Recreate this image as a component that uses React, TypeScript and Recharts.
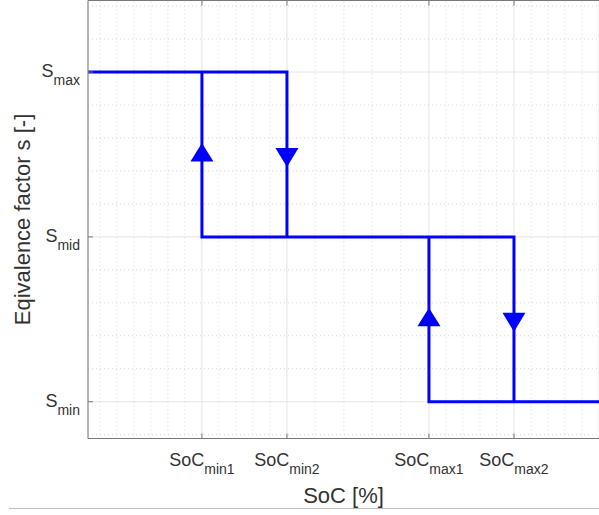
import React from "react";
import { ComposedChart, Line, Scatter, XAxis, YAxis, CartesianGrid, ReferenceLine, Label } from "recharts";

// SoC thresholds (x) and equivalence factor levels (y)
const socTicks = [0.35, 0.45, 0.617, 0.717];
const socSubs = ["min1", "min2", "max1", "max2"];
const sTicks = [0, 1, 2];
const sSubs = ["min", "mid", "max"];

const socMinor = [0.23, 0.25, 0.27, 0.29, 0.31, 0.33, 0.37, 0.39, 0.41, 0.43, 0.483, 0.517, 0.55, 0.584, 0.637, 0.657, 0.677, 0.697, 0.737, 0.757, 0.777, 0.797];
const sMinor = [-0.2, 0.2, 0.4, 0.6, 0.8, 1.2, 1.4, 1.6, 1.8, 2.2, 2.4];

// hysteresis branches
const branchTop = [
  { soc: 0.216, s: 2 },
  { soc: 0.45, s: 2 },
  { soc: 0.45, s: 1 },
];
const branchMid = [
  { soc: 0.35, s: 2 },
  { soc: 0.35, s: 1 },
  { soc: 0.717, s: 1 },
  { soc: 0.717, s: 0 },
];
const branchBottom = [
  { soc: 0.617, s: 1 },
  { soc: 0.617, s: 0 },
  { soc: 0.817, s: 0 },
];

const upArrows = [
  { soc: 0.35, s: 1.5 },
  { soc: 0.617, s: 0.5 },
];
const downArrows = [
  { soc: 0.45, s: 1.5 },
  { soc: 0.717, s: 0.5 },
];

const FONT = '"Liberation Sans", Arial, Helvetica, sans-serif';
const TEXT = "#333333";
const AXIS = "#7a7a7a";
const BLUE = "#0000ff";

const SocTick = ({ x, y, payload }: any) => {
  const i = socTicks.indexOf(payload.value);
  return (
    <g>
      <line x1={x} y1={y} x2={x} y2={y - 5} stroke={AXIS} />
      <text x={x} y={y + 27.5} textAnchor="middle" fontSize={18} fill={TEXT} fontFamily={FONT}>
        SoC
        <tspan fontSize={14} dy={7.5}>{socSubs[i]}</tspan>
      </text>
    </g>
  );
};

const STick = ({ x, y, payload }: any) => {
  const i = sTicks.indexOf(payload.value);
  return (
    <g>
      <line x1={x} y1={y} x2={x + 5} y2={y} stroke={AXIS} />
      <text x={x - 8} y={y + 5} textAnchor="end" fontSize={18} fill={TEXT} fontFamily={FONT}>
        S
        <tspan fontSize={14} dy={8}>{sSubs[i]}</tspan>
      </text>
    </g>
  );
};

const TopTick = ({ x, y }: any) => <line x1={x} y1={y} x2={x} y2={y + 5} stroke={AXIS} />;
const RightTick = ({ x, y }: any) => <line x1={x} y1={y} x2={x - 5} y2={y} stroke={AXIS} />;

const UpTri = ({ cx, cy }: any) => (
  <polygon points={`${cx},${cy - 11.5} ${cx + 11.5},${cy + 7} ${cx - 11.5},${cy + 7}`} fill={BLUE} />
);
const DownTri = ({ cx, cy }: any) => (
  <polygon points={`${cx - 11.5},${cy - 6.5} ${cx + 11.5},${cy - 6.5} ${cx},${cy + 12.5}`} fill={BLUE} />
);

export default function App() {
  return (
    <div style={{ position: "absolute", left: 0, top: 0, width: 599, height: 515, background: "#fff" }}>
      <ComposedChart width={599} height={515} margin={{ top: 0, right: 0, bottom: 0, left: 0 }}>
        <CartesianGrid stroke="#e4e4e4" strokeWidth={1} />
        {socMinor.map((v) => (
          <ReferenceLine key={`vx${v}`} x={v} stroke="#d6d6d6" strokeDasharray="1 3" />
        ))}
        {sMinor.map((v) => (
          <ReferenceLine key={`hy${v}`} y={v} stroke="#d6d6d6" strokeDasharray="1 3" />
        ))}
        <XAxis
          dataKey="soc"
          type="number"
          domain={[0.216, 0.817]}
          ticks={socTicks}
          interval={0}
          height={76.5}
          tickSize={0}
          tickMargin={0}
          tickLine={false}
          axisLine={{ stroke: AXIS }}
          tick={<SocTick />}
          allowDataOverflow
        >
          <Label
            content={({ viewBox }: any) => (
              <text
                x={viewBox.x + viewBox.width / 2}
                y={viewBox.y + 64.5}
                textAnchor="middle"
                fontSize={22}
                fill={TEXT}
                fontFamily={FONT}
              >
                SoC [%]
              </text>
            )}
          />
        </XAxis>
        <XAxis
          xAxisId="top"
          orientation="top"
          dataKey="soc"
          type="number"
          domain={[0.216, 0.817]}
          ticks={socTicks}
          interval={0}
          height={0.5}
          tickSize={0}
          tickMargin={0}
          tickLine={false}
          axisLine={{ stroke: AXIS }}
          tick={<TopTick />}
          allowDataOverflow
        />
        <YAxis
          dataKey="s"
          type="number"
          domain={[-0.223, 2.434]}
          ticks={sTicks}
          interval={0}
          width={88}
          tickSize={0}
          tickMargin={0}
          tickLine={false}
          axisLine={{ stroke: AXIS }}
          tick={<STick />}
          allowDataOverflow
        >
          <Label
            content={({ viewBox }: any) => {
              const cy = viewBox.y + viewBox.height / 2;
              return (
                <text
                  x={30}
                  y={cy}
                  transform={`rotate(-90, 30, ${cy})`}
                  textAnchor="middle"
                  fontSize={22}
                  fill={TEXT}
                  fontFamily={FONT}
                >
                  Eqivalence factor s [-]
                </text>
              );
            }}
          />
        </YAxis>
        <YAxis
          yAxisId="right"
          orientation="right"
          dataKey="s"
          type="number"
          domain={[-0.223, 2.434]}
          ticks={sTicks}
          interval={0}
          width={0}
          tickSize={0}
          tickMargin={0}
          tickLine={false}
          axisLine={false}
          tick={<RightTick />}
          allowDataOverflow
        />
        {[branchTop, branchMid, branchBottom].map((d, i) => (
          <Line
            key={i}
            data={d}
            dataKey="s"
            type="linear"
            stroke={BLUE}
            strokeWidth={3}
            dot={false}
            activeDot={false}
            isAnimationActive={false}
          />
        ))}
        <Scatter data={upArrows} dataKey="s" shape={<UpTri />} isAnimationActive={false} />
        <Scatter data={downArrows} dataKey="s" shape={<DownTri />} isAnimationActive={false} />
      </ComposedChart>
      <div style={{ position: "absolute", left: 9, top: 507.5, width: 590, height: 1, background: "#bdbdbd" }} />
    </div>
  );
}
